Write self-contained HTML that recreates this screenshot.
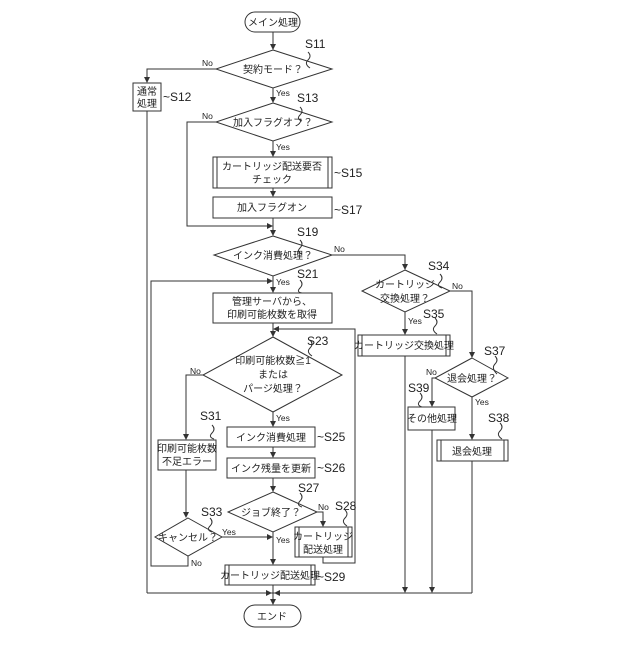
<!DOCTYPE html>
<html><head><meta charset="utf-8"><style>
html,body{margin:0;padding:0;background:#fff;}
svg text{font-family:"Liberation Sans","Noto Sans CJK JP",sans-serif;fill:#222;}
.t{font-size:10px;text-anchor:middle;}
.s{font-size:12px;}
.y{font-size:8.5px;}
</style></head><body>
<svg width="640" height="640" viewBox="0 0 640 640" xmlns="http://www.w3.org/2000/svg">
<defs><marker id="a" markerWidth="6" markerHeight="6" refX="5" refY="3" orient="auto" markerUnits="userSpaceOnUse"><path d="M0,0 L6,3 L0,6 z" fill="#333"/></marker></defs>
<g fill="none" stroke="#333" stroke-width="1">
<!-- start -->
<rect x="245" y="12" width="55" height="20" rx="10"/>
<line x1="273" y1="32" x2="273" y2="49" marker-end="url(#a)"/>
<!-- S11 -->
<polygon points="273,50 332,69 273,88 216,69"/>
<polyline points="216,69 147,69 147,82" marker-end="url(#a)"/>
<rect x="133" y="83" width="28" height="28"/>
<line x1="147" y1="111" x2="147" y2="593"/>
<line x1="273" y1="88" x2="273" y2="102" marker-end="url(#a)"/>
<!-- S13 -->
<polygon points="273,103 332,122 273,141 216,122"/>
<polyline points="216,122 187,122 187,226 272,226" marker-end="url(#a)"/>
<line x1="273" y1="141" x2="273" y2="156" marker-end="url(#a)"/>
<rect x="213" y="157" width="119" height="31"/>
<line x1="217" y1="157" x2="217" y2="188"/><line x1="328" y1="157" x2="328" y2="188"/>
<line x1="273" y1="188" x2="273" y2="196" marker-end="url(#a)"/>
<rect x="213" y="197" width="119" height="21"/>
<line x1="273" y1="218" x2="273" y2="235" marker-end="url(#a)"/>
<!-- S19 -->
<polygon points="273,236 332,255 273,276 214,255"/>
<polyline points="332,255 405,255 405,269" marker-end="url(#a)"/>
<line x1="273" y1="276" x2="273" y2="292" marker-end="url(#a)"/>
<polyline points="188,556 188,566 151,566 151,281 272,281" marker-end="url(#a)"/>
<rect x="213" y="293" width="119" height="30"/>
<line x1="273" y1="323" x2="273" y2="336" marker-end="url(#a)"/>
<polyline points="323,557 323,563 355,563 355,329 274,329" marker-end="url(#a)"/>
<!-- S23 -->
<polygon points="273,337 342,375 273,412 203,375"/>
<polyline points="203,375 186,375 186,439" marker-end="url(#a)"/>
<rect x="158" y="440" width="58" height="30"/>
<line x1="186" y1="470" x2="186" y2="517" marker-end="url(#a)"/>
<polygon points="188,518 222,537 188,556 155,537"/>
<line x1="222" y1="537" x2="272" y2="537" marker-end="url(#a)"/>
<line x1="273" y1="412" x2="273" y2="426" marker-end="url(#a)"/>
<rect x="227" y="427" width="88" height="20"/>
<line x1="273" y1="447" x2="273" y2="457" marker-end="url(#a)"/>
<rect x="227" y="458" width="88" height="20"/>
<line x1="273" y1="478" x2="273" y2="491" marker-end="url(#a)"/>
<polygon points="273,492 317,512 273,532 228,512"/>
<polyline points="317,512 323,512 323,526" marker-end="url(#a)"/>
<rect x="295" y="527" width="57" height="30"/>
<line x1="299" y1="527" x2="299" y2="557"/><line x1="348" y1="527" x2="348" y2="557"/>
<line x1="273" y1="532" x2="273" y2="564" marker-end="url(#a)"/>
<rect x="225" y="565" width="90" height="20"/>
<line x1="229" y1="565" x2="229" y2="585"/><line x1="311" y1="565" x2="311" y2="585"/>
<line x1="273" y1="585" x2="273" y2="604" marker-end="url(#a)"/>
<polyline points="147,593 472,593"/>
<line x1="262" y1="593" x2="271" y2="593" marker-end="url(#a)"/>
<line x1="284" y1="593" x2="275" y2="593" marker-end="url(#a)"/>
<rect x="244" y="605" width="57" height="22" rx="11"/>
<!-- right -->
<polygon points="405,270 450,291 405,312 362,291"/>
<polyline points="450,291 472,291 472,357" marker-end="url(#a)"/>
<line x1="405" y1="312" x2="405" y2="334" marker-end="url(#a)"/>
<rect x="358" y="335" width="92" height="21"/>
<line x1="362" y1="335" x2="362" y2="356"/><line x1="446" y1="335" x2="446" y2="356"/>
<line x1="405" y1="356" x2="405" y2="592" marker-end="url(#a)"/>
<polygon points="472,358 508,378 472,397 435,378"/>
<polyline points="435,378 432,378 432,406" marker-end="url(#a)"/>
<rect x="408" y="407" width="47" height="23"/>
<line x1="432" y1="430" x2="432" y2="592" marker-end="url(#a)"/>
<line x1="472" y1="397" x2="472" y2="439" marker-end="url(#a)"/>
<rect x="437" y="440" width="71" height="21"/>
<line x1="441" y1="440" x2="441" y2="461"/><line x1="504" y1="440" x2="504" y2="461"/>
<line x1="472" y1="461" x2="472" y2="593"/>
<!-- label ticks -->
<path d="M308,52 q4,4 0,8 q-4,4 2,8"/>
<path d="M300,107 q4,4 0,8 q-4,4 2,6"/>
<path d="M300,240 q4,4 0,8 q-4,4 2,6"/>
<path d="M300,280 q4,4 0,8 q-4,4 2,5"/>
<path d="M310,340 q4,4 0,8 q-4,4 2,8"/>
<path d="M212,425 q4,4 0,8 q-4,4 2,6"/>
<path d="M210,518 q4,4 0,8 q-4,4 2,6"/>
<path d="M300,493 q4,4 0,8 q-4,4 2,6"/>
<path d="M345,510 q4,4 0,8 q-4,4 2,8"/>
<path d="M440,274 q4,4 0,8 q-4,4 2,6"/>
<path d="M435,318 q4,4 0,8 q-4,4 2,8"/>
<path d="M495,356 q4,4 0,8 q-4,4 2,10"/>
<path d="M420,393 q4,4 0,8 q-4,4 2,6"/>
<path d="M500,423 q4,4 0,8 q-4,4 2,8"/>
</g>
<g class="t">
<text x="273" y="26">メイン処理</text>
<text x="273" y="73">契約モード？</text>
<text x="147" y="95">通常</text><text x="147" y="107">処理</text>
<text x="273" y="126">加入フラグオフ？</text>
<text x="272" y="170">カートリッジ配送要否</text><text x="272" y="183">チェック</text>
<text x="272" y="211">加入フラグオン</text>
<text x="273" y="259">インク消費処理？</text>
<text x="272" y="305">管理サーバから、</text><text x="272" y="318">印刷可能枚数を取得</text>
<text x="273" y="364">印刷可能枚数≧1</text><text x="273" y="378">または</text><text x="273" y="392">パージ処理？</text>
<text x="271" y="441">インク消費処理</text>
<text x="271" y="472">インク残量を更新</text>
<text x="271" y="516">ジョブ終了？</text>
<text x="323" y="540">カートリッジ</text><text x="323" y="553">配送処理</text>
<text x="270" y="579">カートリッジ配送処理</text>
<text x="187" y="452">印刷可能枚数</text><text x="187" y="465">不足エラー</text>
<text x="188" y="541">キャンセル？</text>
<text x="272" y="620">エンド</text>
<text x="405" y="288">カートリッジ</text><text x="405" y="302">交換処理？</text>
<text x="404" y="349">カートリッジ交換処理</text>
<text x="472" y="382">退会処理？</text>
<text x="432" y="422">その他処理</text>
<text x="472" y="455">退会処理</text>
</g>
<g class="s">
<text x="305" y="48">S11</text><text x="163" y="101">~S12</text>
<text x="297" y="102">S13</text><text x="334" y="177">~S15</text><text x="334" y="214">~S17</text>
<text x="297" y="236">S19</text><text x="297" y="278">S21</text><text x="307" y="345">S23</text>
<text x="200" y="420">S31</text><text x="317" y="441">~S25</text><text x="317" y="472">~S26</text>
<text x="298" y="492">S27</text><text x="335" y="510">S28</text><text x="201" y="516">S33</text>
<text x="317" y="581">~S29</text>
<text x="428" y="270">S34</text><text x="423" y="318">S35</text><text x="484" y="355">S37</text>
<text x="408" y="392">S39</text><text x="488" y="422">S38</text>
</g>
<g class="y">
<text x="202" y="66">No</text><text x="276" y="96">Yes</text>
<text x="202" y="119">No</text><text x="276" y="150">Yes</text>
<text x="334" y="252">No</text><text x="276" y="285">Yes</text>
<text x="190" y="374">No</text><text x="276" y="421">Yes</text>
<text x="318" y="510">No</text><text x="276" y="543">Yes</text>
<text x="222" y="535">Yes</text><text x="191" y="566">No</text>
<text x="452" y="289">No</text><text x="408" y="324">Yes</text>
<text x="426" y="375">No</text><text x="475" y="405">Yes</text>
</g>
</svg>
</body></html>
